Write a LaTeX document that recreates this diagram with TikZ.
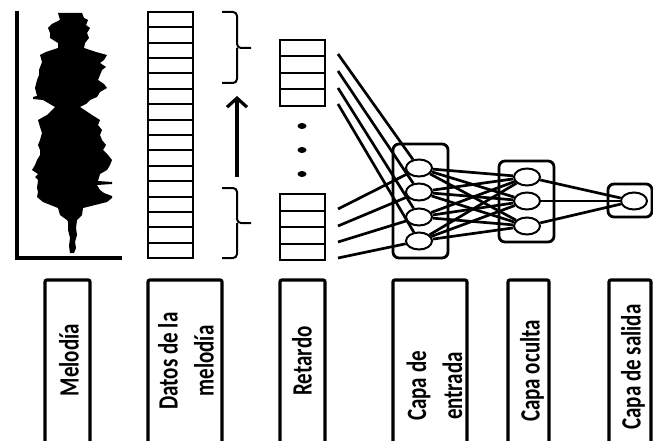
\documentclass[tikz,border=0pt]{standalone}
\usepackage{fontspec}
\setmainfont{Carlito}
\usetikzlibrary{arrows.meta,shapes.geometric}

\begin{document}
\begin{tikzpicture}[x=1pt,y=-1pt,
    neuron/.style={draw,ellipse,minimum width=26pt,minimum height=17pt,inner sep=0pt,line width=2pt},
    layer/.style={draw,rounded corners=6pt,line width=2.8pt,inner sep=0pt},
    wire/.style={line width=2.7pt},
    cell/.style={line width=2pt},
    tag/.style={line width=3.2pt,rounded corners=2pt},
    bracket/.style={line width=2pt,rounded corners=4pt},
    lbl/.style={rotate=90,yscale=1.33,inner sep=0pt,align=center,
                font=\fontsize{21}{27}\selectfont\bfseries}]
    \useasboundingbox (0,0) rectangle (653,441);
    \clip (0,0) rectangle (653,441);

    % waveform of the melody
    \draw[line width=3.5pt] (17,11) -- (17,258) -- (122,258);
    \fill (82,13) -- (84,18) -- (88,20) -- (86,25) -- (90,28) -- (87,33) -- (89,38)
        -- (85,43) -- (84,48) -- (96,52) -- (107,55) -- (104,60) -- (100,63)
        -- (106,67) -- (102,70) -- (100,75) -- (98,80) -- (104,84) -- (107,88)
        -- (100,92) -- (97,97) -- (90,100) -- (86,104) -- (80,107) -- (86,111)
        -- (92,115) -- (100,120) -- (98,125) -- (102,130) -- (100,135) -- (102,140)
        -- (106,145) -- (103,150) -- (108,155) -- (112,160) -- (110,165) -- (107,170)
        -- (100,174) -- (98,181) -- (112,182) -- (112,184) -- (97,185) -- (100,190)
        -- (104,193) -- (112,196) -- (112,198) -- (107,202) -- (95,205) -- (83,208)
        -- (82,215) -- (77,220) -- (76,228) -- (77,235) -- (75,242) -- (76,248)
        -- (74,253) -- (70,253) -- (69,246) -- (70,238) -- (68,230) -- (68,222)
        -- (67,220) -- (60,215) -- (58,208) -- (43,202) -- (37,197) -- (38,192)
        -- (37,188) -- (38,180) -- (35,177) -- (38,174) -- (32,170) -- (35,165)
        -- (37,160) -- (40,155) -- (40,150) -- (38,145) -- (40,140) -- (42,133)
        -- (40,127) -- (38,120) -- (47,115) -- (55,107) -- (43,100) -- (33,99)
        -- (33,97) -- (37,96) -- (35,88) -- (37,80) -- (39,75) -- (39,70)
        -- (42,62) -- (40,55) -- (46,52) -- (58,48) -- (58,43) -- (50,38)
        -- (50,33) -- (48,28) -- (52,24) -- (60,20) -- (58,13) -- cycle;

    % sampled data
    \draw[cell] (148,12) rectangle (193,258);
    \foreach \i in {1,...,15}
        \draw[cell] (148,{12+15.375*\i}) -- ++(45,0);
    \foreach \a/\m/\b in {12/48/83,188/223/258} {
        \draw[bracket] (222,\a) -- (237,\a) -- (237,\m) -- (251,\m);
        \draw[bracket] (222,\b) -- (237,\b) -- (237,\m);
    }
    \coordinate (slidelo) at (237,177);
    \coordinate (slidehi) at (237,96);
    \draw[line width=3.2pt,-{Straight Barb[length=9pt,width=20pt]}] (slidelo) -- (slidehi);

    % delay line
    \foreach \y in {40,194} {
        \draw[cell] (280,\y) rectangle (325,\y+66);
        \foreach \k in {1,2,3}
            \draw[cell] (280,\y+16.5*\k) -- ++(45,0);
    }
    \foreach \y in {126,150,174}
        \fill (302,\y) ellipse (4.5 and 3);

    % network
    \node[layer,minimum width=55pt,minimum height=114pt] (inbox) at (420.5,201) {};
    \node[layer,minimum width=55pt,minimum height=81pt] (hidbox) at (526.5,201.5) {};
    \node[layer,minimum width=44pt,minimum height=33pt] (outbox) at (630,200.5) {};
    \foreach \i/\y in {1/168,2/192,3/217,4/241}
        \node[neuron] (in\i) at (419,\y) {};
    \foreach \j/\y in {1/177,2/201,3/226}
        \node[neuron] (hid\j) at (527,\y) {};
    \node[neuron] (out) at (634,201) {};

    \foreach \i/\a/\b in {1/54/209,2/71/226,3/88/242,4/104/258} {
        \coordinate (tapa\i) at (338,\a);
        \coordinate (tapb\i) at (338,\b);
        \draw[wire] (tapa\i) -- (in\i);
        \draw[wire] (tapb\i) -- (in\i);
    }
    \foreach \i in {1,...,4}
        \foreach \j in {1,2,3}
            \draw[wire] (in\i) -- (hid\j);
    \foreach \j in {1,2,3}
        \draw[wire] (hid\j) -- (out);

    % captions
    \foreach \a/\b in {45/90,148/222,280/325,393/467,508/549,609/651}
        \draw[tag] (\a,470) |- (\b,280) -- (\b,470);
    \node[lbl] (melodia) at (69,360) {Melodía};
    \node[lbl] (datos) at (186,361) {Datos de la\\melodía};
    \node[lbl] (retardo) at (302,361) {Retardo};
    \node[lbl] (entrada) at (434.5,386) {Capa de\\entrada};
    \node[lbl] (oculta) at (532,371) {Capa oculta};
    \node[lbl] (salida) at (633,367) {Capa de salida};
\end{tikzpicture}
\end{document}
